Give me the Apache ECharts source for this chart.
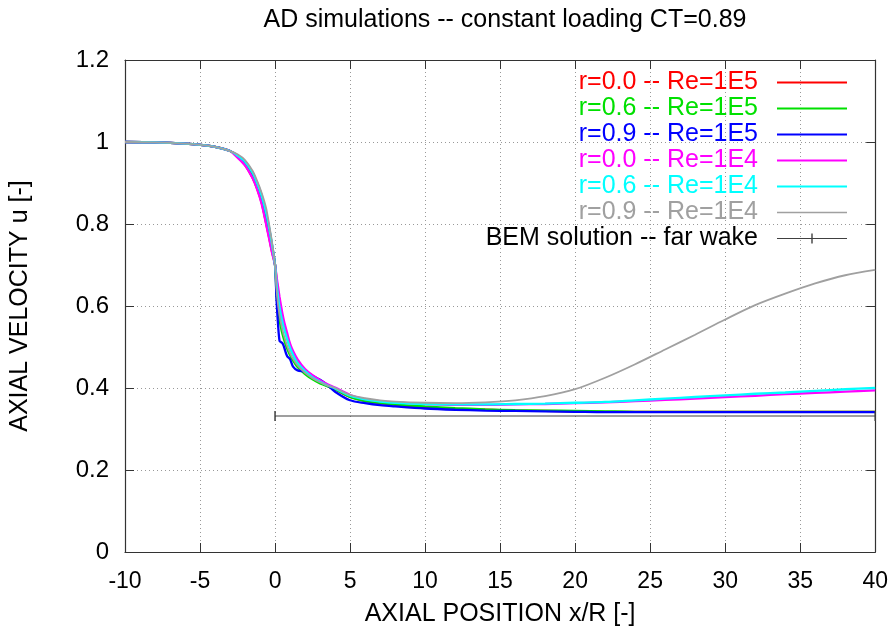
<!DOCTYPE html>
<html>
<head>
<meta charset="utf-8">
<script src="https://cdn.jsdelivr.net/npm/echarts@6/dist/echarts.min.js"></script>
<style>html,body{margin:0;padding:0;background:#fff;}#c{width:891px;height:640px;}</style>
</head>
<body>
<div id="c"></div>
<script>
const xs = [-10,-8,-6,-5,-4,-3,-2.5,-2,-1.5,-1.2,-0.9,-0.6,-0.4,-0.2,0,0.1,0.2,0.3,0.4,0.5,0.6,0.8,1,1.2,1.5,2,2.5,3,3.5,4,5,6,7,8,10,12,14,16,18,20,22,24,26,28,30,32,34,36,38,40];

const uR0Re5 = [1.0,0.999,0.996,0.993,0.988,0.978,0.963,0.944,0.913,0.887,0.853,0.803,0.768,0.732,0.70,0.665,0.635,0.61,0.59,0.57,0.553,0.525,0.50,0.483,0.463,0.44,0.426,0.415,0.405,0.397,0.378,0.369,0.363,0.359,0.353,0.349,0.347,0.345,0.344,0.343,0.342,0.342,0.342,0.342,0.342,0.342,0.342,0.342,0.342,0.342];
const uR6Re5 = [1.0,0.999,0.996,0.993,0.988,0.978,0.966,0.950,0.922,0.897,0.865,0.82,0.783,0.743,0.70,0.627,0.593,0.567,0.547,0.531,0.518,0.497,0.48,0.467,0.451,0.434,0.421,0.411,0.404,0.397,0.378,0.368,0.364,0.36,0.355,0.351,0.348,0.346,0.345,0.344,0.343,0.342,0.342,0.342,0.342,0.342,0.342,0.342,0.342,0.342];
const uR9Re5 = [1.0,0.999,0.996,0.993,0.988,0.978,0.967,0.952,0.925,0.9,0.87,0.826,0.79,0.748,0.70,0.615,0.555,0.515,0.512,0.509,0.50,0.478,0.47,0.452,0.443,0.44,0.43,0.42,0.407,0.391,0.37,0.363,0.358,0.355,0.35,0.347,0.345,0.344,0.343,0.342,0.341,0.341,0.341,0.341,0.341,0.341,0.341,0.341,0.341,0.341];
const uR0Re4 = [1.0,0.999,0.996,0.993,0.988,0.978,0.962,0.943,0.912,0.885,0.85,0.80,0.765,0.73,0.70,0.672,0.647,0.622,0.60,0.58,0.563,0.535,0.508,0.49,0.47,0.446,0.431,0.419,0.409,0.401,0.383,0.373,0.368,0.365,0.361,0.359,0.359,0.36,0.361,0.363,0.365,0.368,0.371,0.374,0.378,0.381,0.385,0.388,0.391,0.394];
const uR6Re4 = [1.0,0.999,0.996,0.993,0.988,0.978,0.967,0.952,0.925,0.9,0.87,0.828,0.792,0.75,0.70,0.655,0.622,0.597,0.577,0.56,0.545,0.52,0.498,0.481,0.461,0.441,0.426,0.415,0.406,0.399,0.381,0.372,0.367,0.364,0.361,0.36,0.36,0.361,0.362,0.364,0.366,0.37,0.374,0.378,0.382,0.386,0.389,0.393,0.397,0.40];
const uR9Re4 = [1.0,0.999,0.996,0.993,0.988,0.978,0.97,0.956,0.93,0.906,0.877,0.84,0.80,0.755,0.70,0.64,0.603,0.578,0.558,0.541,0.527,0.503,0.485,0.471,0.455,0.437,0.424,0.414,0.406,0.40,0.383,0.375,0.37,0.367,0.364,0.363,0.365,0.37,0.38,0.397,0.425,0.458,0.494,0.53,0.567,0.602,0.63,0.655,0.675,0.688];

const bemX = [0, 40];
const bemU = [0.3317, 0.3317];

const seriesNames = ['r=0.0 -- Re=1E5','r=0.6 -- Re=1E5','r=0.9 -- Re=1E5','r=0.0 -- Re=1E4','r=0.6 -- Re=1E4','r=0.9 -- Re=1E4','BEM solution -- far wake'];
const seriesColors = ['#ff0000','#00e000','#0000ff','#ff00ff','#00ffff','#a0a0a0','#404040'];
const yTickLabels = ['0','0.2','0.4','0.6','0.8','1','1.2'];
const xTickLabels = ['-10','-5','0','5','10','15','20','25','30','35','40'];

const curves = [uR0Re5,uR6Re5,uR9Re5,uR0Re4,uR6Re4,uR9Re4];
const FONT = "'Liberation Sans', Arial, Helvetica, sans-serif";

const series = curves.map((u, i) => ({
  name: seriesNames[i], type: 'line', xAxisIndex: 0, yAxisIndex: 0,
  data: xs.map((x, j) => [x, u[j]]),
  showSymbol: false, symbol: 'none', smooth: 0.3,
  lineStyle: {color: seriesColors[i], width: i === 5 ? 1.8 : 2.3},
  itemStyle: {color: seriesColors[i]},
  z: 2 + i, animation: false
}));
series.push({
  name: seriesNames[6], type: 'line', xAxisIndex: 0, yAxisIndex: 0,
  data: bemX.map((x, j) => [x, bemU[j]]),
  symbol: 'rect', symbolSize: [1.5, 10], showSymbol: true,
  lineStyle: {color: seriesColors[6], width: 1.2},
  itemStyle: {color: seriesColors[6]},
  z: 10, animation: false
});

const lineIcon = (t) => 'path://M0,0M0,' + (7 - t / 2) + 'H70V' + (7 + t / 2) + 'H0ZM70,14';
const bemIcon = 'path://M0,0M0,6.4H34.3V2H35.7V6.4H70V7.6H35.7V12H34.3V7.6H0ZM70,14';

const gridLine = {show: true, lineStyle: {color: '#999', type: [1, 3], width: 1}};
const axLine = {show: true, onZero: false, lineStyle: {color: '#333', width: 1.2}};
const tick = {show: true, inside: true, length: 9, lineStyle: {color: '#333'}};

const chart = echarts.init(document.getElementById('c'), null, {renderer: 'canvas'});
chart.setOption({
  animation: false,
  backgroundColor: '#fff',
  title: {text: 'AD simulations -- constant loading CT=0.89', left: 500, textAlign: 'center', top: 3,
    textStyle: {fontFamily: FONT, fontSize: 25, fontWeight: 'normal', color: '#000'}},
  grid: {left: 122, right: 13, top: 60, bottom: 88, show: false},
  legend: {
    orient: 'vertical', right: 44, top: 70, align: 'right', padding: 0,
    itemWidth: 70, itemHeight: 14, itemGap: 1,
    formatter: name => '{t|' + name + '}',
    textStyle: {fontFamily: FONT, fontSize: 25},
    data: seriesNames.map((n, i) => ({
      name: n,
      icon: i === 6 ? bemIcon : lineIcon(i === 5 ? 1.6 : 2.2),
      textStyle: {color: i === 6 ? '#000' : seriesColors[i],
        rich: {t: {color: i === 6 ? '#000' : seriesColors[i], fontFamily: FONT, fontSize: 25, width: 300, align: 'right', padding: [0, 14, 0, 0], lineHeight: 25}}}
    }))
  },
  xAxis: [
    {type: 'value', min: -10, max: 40, interval: 5, position: 'bottom',
      name: 'AXIAL POSITION x/R [-]', nameLocation: 'middle', nameGap: 50,
      nameTextStyle: {fontFamily: FONT, fontSize: 25, color: '#000'},
      axisLine: axLine, axisTick: tick, splitLine: gridLine,
      axisLabel: {fontFamily: FONT, fontSize: 23, color: '#000', margin: 18,
        formatter: (v, i) => xTickLabels[i]}},
    {type: 'value', min: -10, max: 40, interval: 5, position: 'top',
      axisLine: axLine, axisTick: tick, splitLine: {show: false}, axisLabel: {show: false}}
  ],
  yAxis: [
    {type: 'value', min: 0, max: 1.2, interval: 0.2, position: 'left',
      name: 'AXIAL VELOCITY u [-]', nameLocation: 'middle', nameGap: 92,
      nameTextStyle: {fontFamily: FONT, fontSize: 25, color: '#000'},
      axisLine: axLine, axisTick: tick, splitLine: gridLine,
      axisLabel: {fontFamily: FONT, fontSize: 24, color: '#000', margin: 16,
        formatter: (v, i) => yTickLabels[i]}},
    {type: 'value', min: 0, max: 1.2, interval: 0.2, position: 'right',
      axisLine: axLine, axisTick: tick, splitLine: {show: false}, axisLabel: {show: false}}
  ],
  series: series
});
</script>
</body>
</html>
